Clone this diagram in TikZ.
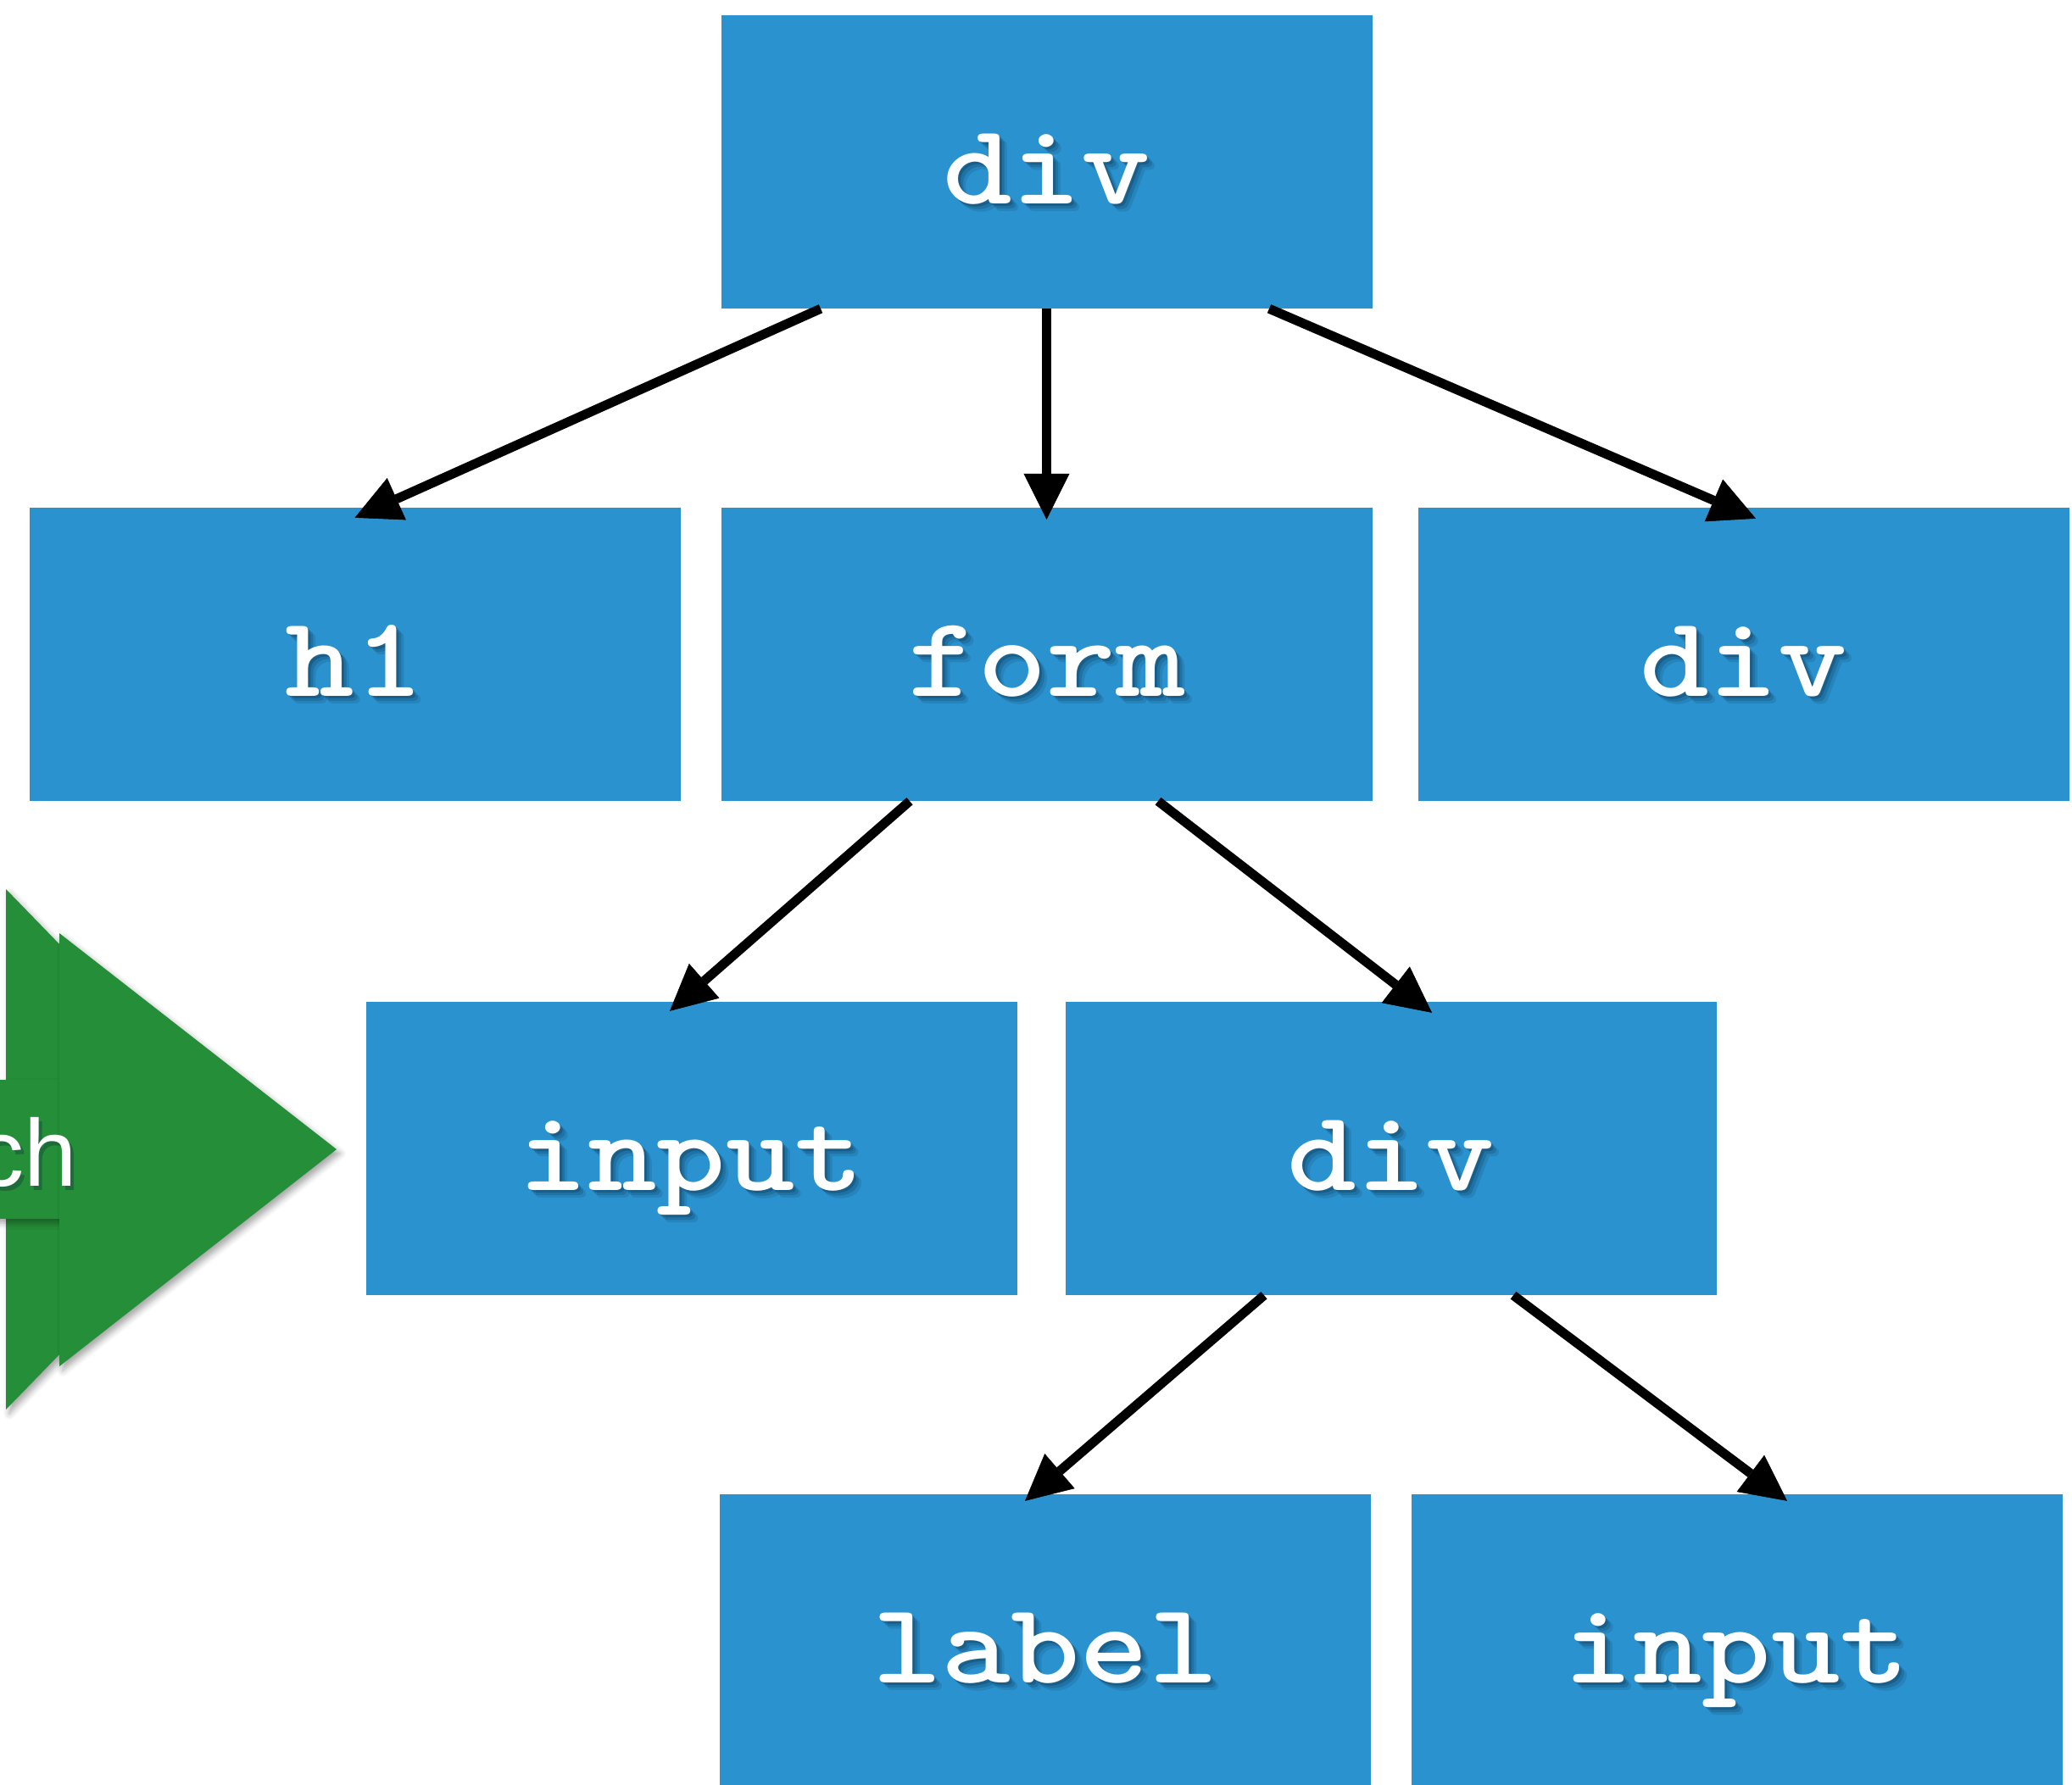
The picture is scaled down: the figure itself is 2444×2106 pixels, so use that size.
\documentclass[tikz,border=0pt]{standalone}
\usepackage{fontspec}
\usetikzlibrary{arrows.meta,shadows.blur}
\newfontfamily\tagfamily{lmmonolt10-bold.otf}[FakeStretch=1.15]
\newfontfamily\stepfamily{Liberation Sans}
\definecolor{tagblue}{RGB}{42,146,206}
\definecolor{stepgreen}{RGB}{37,142,56}
\definecolor{textshade}{RGB}{8,35,60}

\tikzset{
  tagbox/.style={rectangle, fill=tagblue, draw=none, inner sep=0pt,
    minimum width=768pt, minimum height=346pt},
  tagfont/.style={anchor=base, inner sep=0pt, text=white,
    font=\tagfamily\fontsize{135}{135}\selectfont},
  tagshade/.style={tagfont, text=textshade, text opacity=#1},
  stepfont/.style={anchor=base east, inner sep=0pt, text=white,
    font=\stepfamily\fontsize{112}{112}\selectfont},
  link/.style={draw=black, line width=11pt, line cap=butt,
    -{Triangle[length=54pt,width=54pt,line width=0.5pt,color=black,fill=black]}},
  greenpart/.style={fill=stepgreen, draw=none,
    blur shadow={shadow xshift=4pt, shadow yshift=-5pt,
      shadow blur radius=7pt, shadow opacity=35}},
}

% tag label with a soft drop shadow under it
\newcommand\taglabel[2]{%
  \node[tagshade=0.12] at ([xshift=9pt,yshift=-58pt]#1.center) {#2};
  \node[tagshade=0.18] at ([xshift=6pt,yshift=-55pt]#1.center) {#2};
  \node[tagshade=0.25] at ([xshift=3pt,yshift=-52pt]#1.center) {#2};
  \node[tagfont] (#1-label) at ([yshift=-49pt]#1.center) {#2};
}

\begin{document}
\begin{tikzpicture}[x=1pt, y=-1pt]
\useasboundingbox (0,0) rectangle (2444,2106);

% green step arrow on the left
\fill[greenpart] (7,1049) -- (7,1663) -- (305,1356) -- cycle;
\fill[greenpart] (-60,1274) rectangle (70,1438);
\fill[greenpart] (70,1101) -- (70,1612) -- (397,1356) -- cycle;
\node[stepfont, text=textshade, text opacity=0.3] at (95,1404) {ch};
\node[stepfont] (steptext) at (91,1399) {ch};

% element boxes
\node[tagbox] (top)    at (1234.5,191) {};
\node[tagbox] (h1)     at (418.5,772) {};
\node[tagbox] (form)   at (1234.5,772) {};
\node[tagbox] (rdiv)   at (2056.5,772) {};
\node[tagbox] (input)  at (815.5,1355) {};
\node[tagbox] (mdiv)   at (1641,1355) {};
\node[tagbox] (label)  at (1233,1936) {};
\node[tagbox] (rinput) at (2048.5,1936) {};

% parent-child links
\draw[link] ([xshift=-266.5pt]top.south) -- ([yshift=-12pt]h1.north);
\draw[link] (top.south) -- ([yshift=-14pt]form.north);
\draw[link] ([xshift=262.5pt]top.south) -- ([xshift=14.5pt,yshift=-13pt]rdiv.north);
\draw[link] ([xshift=-161.5pt]form.south) -- ([xshift=-25.5pt,yshift=-11pt]input.north);
\draw[link] ([xshift=131.5pt]form.south) -- ([xshift=48pt,yshift=-13pt]mdiv.north);
\draw[link] ([xshift=-150pt]mdiv.south) -- ([xshift=-24pt,yshift=-8pt]label.north);
\draw[link] ([xshift=144pt]mdiv.south) -- ([xshift=59.5pt,yshift=-8pt]rinput.north);

\taglabel{top}{div}
\taglabel{h1}{h1}
\taglabel{form}{form}
\taglabel{rdiv}{div}
\taglabel{input}{input}
\taglabel{mdiv}{div}
\taglabel{label}{label}
\taglabel{rinput}{input}
\end{tikzpicture}
\end{document}
